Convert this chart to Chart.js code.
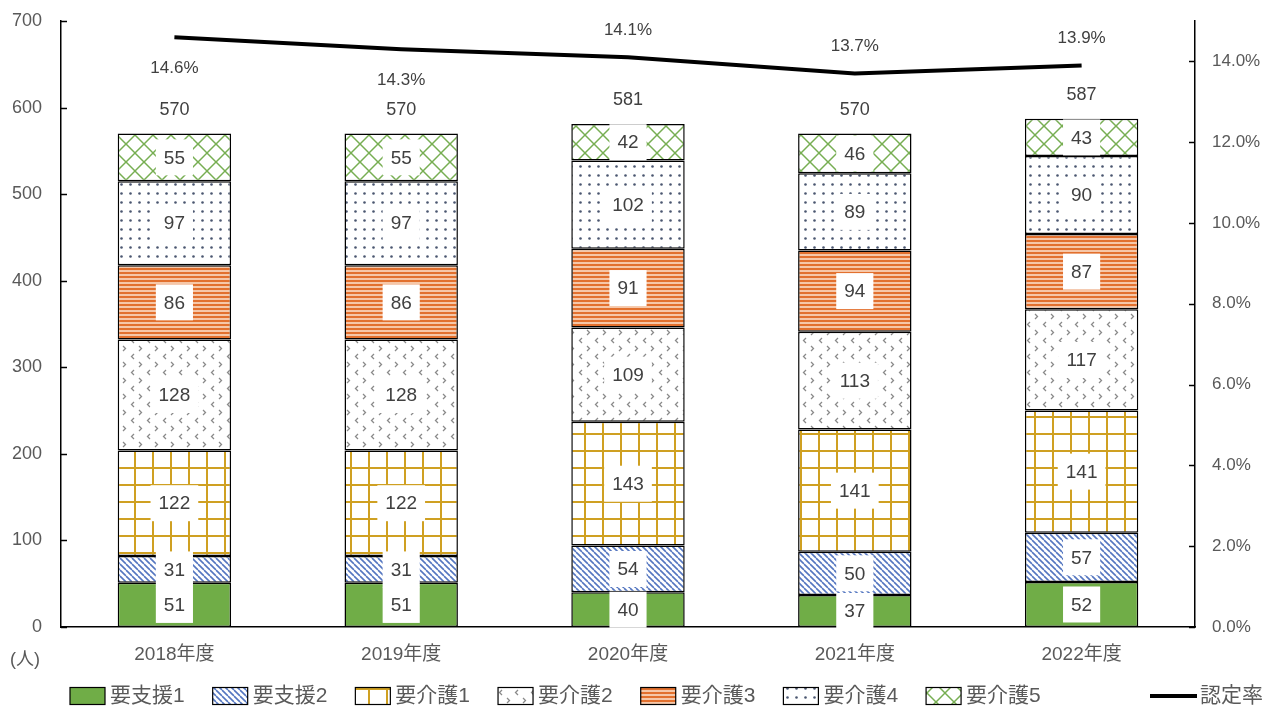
<!DOCTYPE html>
<html lang="ja">
<head>
<meta charset="utf-8">
<script src="https://cdn.jsdelivr.net/npm/chart.js@4.4.1/dist/chart.umd.min.js"></script>
<style>
  html, body { margin: 0; padding: 0; background: #fff; }
  #wrap { width: 1271px; height: 709px; }
</style>
</head>
<body>
<div id="wrap"><canvas id="chart"></canvas></div>
<script>
// 年度別 要支援・要介護認定者数と認定率
const years = ['2018年度', '2019年度', '2020年度', '2021年度', '2022年度'];
const shien1 = [51, 51, 40, 37, 52];
const shien2 = [31, 31, 54, 50, 57];
const kaigo1 = [122, 122, 143, 141, 141];
const kaigo2 = [128, 128, 109, 113, 117];
const kaigo3 = [86, 86, 91, 94, 87];
const kaigo4 = [97, 97, 102, 89, 90];
const kaigo5 = [55, 55, 42, 46, 43];
const rate = [14.6, 14.3, 14.1, 13.7, 13.9];

const FONT = '"Liberation Sans", "Noto Sans CJK JP", sans-serif';
const TEXT = '#595959';

const canvas = document.getElementById('chart');
const ctx = canvas.getContext('2d');

// small tile canvases used as repeating fills
function tile(w, h, draw) {
  const c = document.createElement('canvas');
  c.width = w; c.height = h;
  const g = c.getContext('2d');
  g.fillStyle = '#fff';
  g.fillRect(0, 0, w, h);
  draw(g, w, h);
  return ctx.createPattern(c, 'repeat');
}

const fillShien2 = tile(6, 6, (g, w, h) => {
  g.strokeStyle = '#5476C0';
  g.lineWidth = 1.6;
  for (const o of [-w, 0, w]) {
    g.beginPath(); g.moveTo(o, 0); g.lineTo(o + w, h); g.stroke();
  }
});
const fillKaigo1 = tile(18, 17, (g) => {
  g.fillStyle = '#CFA022';
  g.fillRect(8, 0, 2, 17);
  g.fillRect(0, 8, 18, 2);
});
const fillKaigo2 = tile(16, 16, (g) => {
  g.strokeStyle = '#8a8a8a';
  g.lineWidth = 1.3;
  g.beginPath(); g.moveTo(6, 2); g.lineTo(3.5, 4.5); g.lineTo(6, 7); g.stroke();
  g.beginPath(); g.moveTo(11, 10); g.lineTo(13.5, 12.5); g.lineTo(11, 15); g.stroke();
});
const fillKaigo3 = tile(1, 4, (g) => {
  g.fillStyle = '#E2702E';
  g.fillRect(0, 0, 1, 2);
  g.fillStyle = '#F6C7A8';
  g.fillRect(0, 2, 1, 2);
});
const fillKaigo4 = tile(9, 9, (g) => {
  g.fillStyle = '#4A5670';
  g.beginPath(); g.arc(4.5, 4.5, 1.3, 0, Math.PI * 2); g.fill();
});
const fillKaigo5 = tile(18, 18, (g, w, h) => {
  g.strokeStyle = '#77AE52';
  g.lineWidth = 1.5;
  for (const o of [-w, 0, w]) {
    g.beginPath(); g.moveTo(o, 0); g.lineTo(o + w, h); g.stroke();
    g.beginPath(); g.moveTo(o + w, 0); g.lineTo(o, h); g.stroke();
  }
});

const barSeries = [
  { label: '要支援1', data: shien1, fill: '#70AD47' },
  { label: '要支援2', data: shien2, fill: fillShien2 },
  { label: '要介護1', data: kaigo1, fill: fillKaigo1 },
  { label: '要介護2', data: kaigo2, fill: fillKaigo2 },
  { label: '要介護3', data: kaigo3, fill: fillKaigo3 },
  { label: '要介護4', data: kaigo4, fill: fillKaigo4 },
  { label: '要介護5', data: kaigo5, fill: fillKaigo5 },
];

const totals = years.map((_, i) => barSeries.reduce((s, b) => s + b.data[i], 0));
// rate labels: first two sit under the line, the rest above
const rateBelow = [true, true, false, false, false];

const labelsPlugin = {
  id: 'labels',
  afterDatasetsDraw(chart) {
    const c = chart.ctx;
    c.save();
    c.textAlign = 'center';
    c.textBaseline = 'middle';
    c.font = '19px ' + FONT;
    chart.data.datasets.forEach((ds, i) => {
      if (ds.type !== 'bar') return;
      chart.getDatasetMeta(i).data.forEach((el, j) => {
        const { x, y, base } = el.getProps(['x', 'y', 'base'], true);
        const cy = (y + base) / 2;
        const txt = String(ds.data[j]);
        const w = c.measureText(txt).width + 16;
        c.fillStyle = '#fff';
        c.fillRect(x - w / 2, cy - 18, w, 36);
        c.fillStyle = '#404040';
        c.fillText(txt, x, cy + 1);
      });
    });

    // totals above each stack
    const ys = chart.scales.y;
    const xs = chart.scales.x;
    c.font = '18px ' + FONT;
    c.fillStyle = '#404040';
    totals.forEach((t, i) => {
      c.fillText(String(t), xs.getPixelForValue(i), ys.getPixelForValue(t) - 24);
    });

    // rate values next to the line
    c.font = '17px ' + FONT;
    const lineIdx = chart.data.datasets.findIndex(d => d.type === 'line');
    chart.getDatasetMeta(lineIdx).data.forEach((el, j) => {
      const dy = rateBelow[j] ? 31 : -27;
      c.fillText(rate[j].toFixed(1) + '%', el.x, el.y + dy);
    });
    c.restore();
  },
  afterDraw(chart) {
    const c = chart.ctx;
    const { left, right } = chart.chartArea;
    c.save();
    // inward tick marks on both value axes
    c.strokeStyle = '#000';
    c.lineWidth = 1.5;
    const ys = chart.scales.y, y2 = chart.scales.y2;
    ys.ticks.forEach(t => {
      const py = Math.round(ys.getPixelForValue(t.value)) + 0.5;
      c.beginPath(); c.moveTo(left, py); c.lineTo(left + 6, py); c.stroke();
    });
    y2.ticks.forEach(t => {
      const py = Math.round(y2.getPixelForValue(t.value)) + 0.5;
      c.beginPath(); c.moveTo(right - 6, py); c.lineTo(right, py); c.stroke();
    });

    // unit label
    c.fillStyle = TEXT;
    c.font = '18px ' + FONT;
    c.textAlign = 'left';
    c.textBaseline = 'middle';
    c.fillText('(人)', 10, 660);

    // legend row
    c.font = '21px ' + FONT;
    const ly = 696;
    let lx = 70;
    barSeries.forEach(s => {
      c.fillStyle = s.fill;
      c.fillRect(lx, ly - 8.5, 35, 17);
      c.strokeStyle = '#000';
      c.lineWidth = 1.2;
      c.strokeRect(lx, ly - 8.5, 35, 17);
      c.fillStyle = TEXT;
      c.fillText(s.label, lx + 40, ly);
      lx += 40 + c.measureText(s.label).width + 28;
    });
    const rx = 1150;
    c.strokeStyle = '#000';
    c.lineWidth = 4;
    c.beginPath(); c.moveTo(rx, ly); c.lineTo(rx + 47, ly); c.stroke();
    c.fillStyle = TEXT;
    c.fillText('認定率', rx + 50, ly);
    c.restore();
  }
};

// value axes: keep label padding from pushing the plot area down
const trimPadding = s => { s.paddingTop = 0; s.paddingBottom = 0; };

new Chart(canvas, {
  data: {
    labels: years,
    datasets: [
      {
        type: 'line',
        label: '認定率',
        data: rate,
        yAxisID: 'y2',
        borderColor: '#000',
        borderWidth: 4,
        pointRadius: 0,
        tension: 0,
        order: 0,
      },
      ...barSeries.map(s => ({
        type: 'bar',
        label: s.label,
        data: s.data,
        backgroundColor: s.fill,
        borderColor: '#000',
        borderWidth: 1.5,
        borderSkipped: false,
        barPercentage: 0.5,
        categoryPercentage: 1,
        yAxisID: 'y',
        order: 1,
      })),
    ],
  },
  options: {
    responsive: true,
    maintainAspectRatio: false,
    animation: false,
    layout: { padding: { top: 21 } },
    plugins: {
      legend: { display: false },
      tooltip: { enabled: false },
    },
    scales: {
      x: {
        stacked: true,
        grid: { display: false, drawTicks: false },
        border: { color: '#000', width: 1.5 },
        ticks: { color: TEXT, font: { family: FONT, size: 19 }, padding: 16 },
        afterFit: s => { s.height = 82; },
      },
      y: {
        stacked: true,
        min: 0,
        max: 700,
        grid: { display: false, drawTicks: false },
        border: { color: '#000', width: 1.5 },
        ticks: { stepSize: 100, color: TEXT, font: { family: FONT, size: 18 }, padding: 19 },
        afterFit: s => { s.width = 61; trimPadding(s); },
      },
      y2: {
        position: 'right',
        min: 0,
        max: 15,
        grid: { display: false, drawTicks: false },
        border: { color: '#000', width: 1.5 },
        ticks: {
          stepSize: 2,
          color: TEXT,
          font: { family: FONT, size: 17 },
          padding: 17,
          callback: v => v.toFixed(1) + '%',
        },
        afterBuildTicks: s => { s.ticks = s.ticks.filter(t => t.value % 2 === 0); },
        afterFit: s => { s.width = 76; trimPadding(s); },
      },
    },
  },
  plugins: [labelsPlugin],
});
</script>
</body>
</html>
